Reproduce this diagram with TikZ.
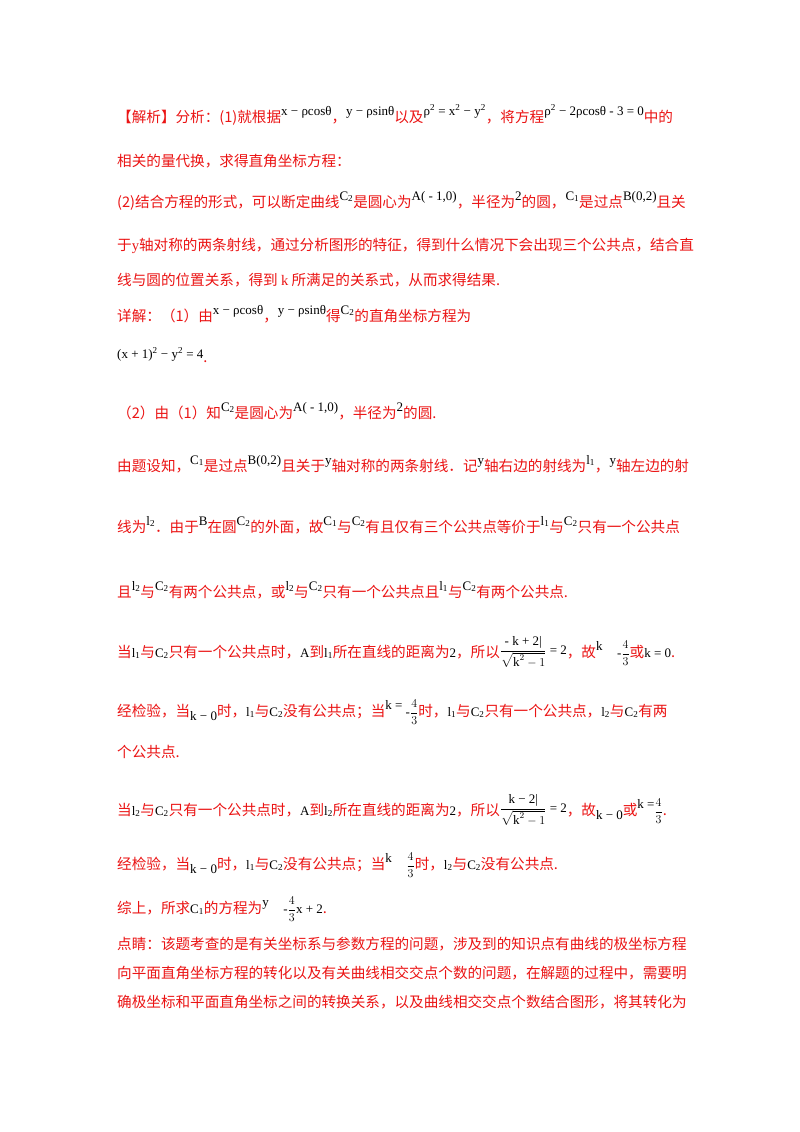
\documentclass[tikz,border=0pt]{standalone}
\usepackage{amsmath}
\usepackage{fontspec}
\setmainfont{Liberation Serif}
\newfontfamily\cjk{Noto Sans CJK SC}
\definecolor{jred}{RGB}{235,20,20}
\newcommand\msz{\fontsize{13pt}{15pt}\selectfont}
\newcommand\m[1]{{\rmfamily\color{black}#1}}
\newcommand\hi[1]{\raisebox{7pt}{\m{\msz #1}}}
\newcommand\lo[1]{\raisebox{-4pt}{\m{\msz #1}}}
\newcommand\ssb[1]{\textsubscript{#1}}
\newcommand\ssp[1]{\textsuperscript{#1}}
\newcommand\fr[2]{\m{\msz$\dfrac{\text{#1}}{\text{#2}}$}}
\newcommand\ft{\m{\msz$\dfrac{4}{3}$}}
\begin{document}
\begin{tikzpicture}[x=1pt,y=-1pt,
  ln/.style={anchor=base west,inner sep=0pt,font=\cjk\fontsize{14.6pt}{16pt}\selectfont,text=jred}]
\useasboundingbox (0,0) rectangle (800,1132);
\fill[white] (0,0) rectangle (800,1132);
\node[ln] (l1) at (117,122) {【解析】分析：(1)就根据\hi{x − ρcosθ}，\hi{y − ρsinθ}以及\hi{ρ\ssp{2} = x\ssp{2} − y\ssp{2}}，将方程\hi{ρ\ssp{2} − 2ρcosθ - 3 = 0}中的};
\node[ln] (l2) at (117,166) {相关的量代换，求得直角坐标方程：};
\node[ln] (l3) at (117,207) {(2)结合方程的形式，可以断定曲线\hi{C\ssb{2}}是圆心为\hi{A( - 1,0)}，半径为\hi{2}的圆，\hi{C\ssb{1}}是过点\hi{B(0,2)}且关};
\node[ln] (l4) at (117,250) {于{\rmfamily y}轴对称的两条射线，通过分析图形的特征，得到什么情况下会出现三个公共点，结合直};
\node[ln] (l5) at (117,285) {线与圆的位置关系，得到 {\rmfamily k} 所满足的关系式，从而求得结果.};
\node[ln] (l6) at (117,321) {详解：（1）由\hi{x − ρcosθ}，\hi{y − ρsinθ}得\hi{C\ssb{2}}的直角坐标方程为};
\node[ln] (l7) at (117,358) {\m{\msz (x + 1)\ssp{2} − y\ssp{2} = 4}\raisebox{-4pt}{.}};
\node[ln] (l8) at (117,418) {（2）由（1）知\hi{C\ssb{2}}是圆心为\hi{A( - 1,0)}，半径为\hi{2}的圆.};
\node[ln] (l9) at (117,471) {由题设知，\hi{C\ssb{1}}是过点\hi{B(0,2)}且关于\hi{y}轴对称的两条射线．记\hi{y}轴右边的射线为\hi{l\ssb{1}}，\hi{y}轴左边的射};
\node[ln] (l10) at (117,532) {线为\hi{l\ssb{2}}．由于\hi{B}在圆\hi{C\ssb{2}}的外面，故\hi{C\ssb{1}}与\hi{C\ssb{2}}有且仅有三个公共点等价于\hi{l\ssb{1}}与\hi{C\ssb{2}}只有一个公共点};
\node[ln] (l11) at (117,597) {且\hi{l\ssb{2}}与\hi{C\ssb{2}}有两个公共点，或\hi{l\ssb{2}}与\hi{C\ssb{2}}只有一个公共点且\hi{l\ssb{1}}与\hi{C\ssb{2}}有两个公共点.};
\node[ln] (l12) at (117,657) {当\m{\msz l\ssb{1}}与\m{\msz C\ssb{2}}只有一个公共点时，\m{\msz A}到\m{\msz l\ssb{1}}所在直线的距离为\m{\msz 2}，所以\raisebox{3pt}{\fr{- k + 2|}{$\sqrt{\text{k}^2-1}$}\m{\msz\ = 2}}，故\hi{k}\quad\m{\msz -}\ft 或\m{\msz k = 0}.};
\node[ln] (l13) at (117,716) {经检验，当\lo{k − 0}时，\m{\msz l\ssb{1}}与\m{\msz C\ssb{2}}没有公共点；当\hi{k =}\m{\msz\ -}\ft 时，\m{\msz l\ssb{1}}与\m{\msz C\ssb{2}}只有一个公共点，\m{\msz l\ssb{2}}与\m{\msz C\ssb{2}}有两};
\node[ln] (l14) at (117,757) {个公共点.};
\node[ln] (l15) at (117,815) {当\m{\msz l\ssb{2}}与\m{\msz C\ssb{2}}只有一个公共点时，\m{\msz A}到\m{\msz l\ssb{2}}所在直线的距离为\m{\msz 2}，所以\raisebox{3pt}{\fr{k − 2|}{$\sqrt{\text{k}^2-1}$}\m{\msz\ = 2}}，故\lo{k − 0}或\hi{k =}\ft.};
\node[ln] (l16) at (117,869) {经检验，当\lo{k − 0}时，\m{\msz l\ssb{1}}与\m{\msz C\ssb{2}}没有公共点；当\hi{k}\quad\ft 时，\m{\msz l\ssb{2}}与\m{\msz C\ssb{2}}没有公共点.};
\node[ln] (l17) at (117,913) {综上，所求\m{\msz C\ssb{1}}的方程为\hi{y}\quad\m{\msz -}\ft\m{\msz x + 2}.};
\node[ln] (l18) at (117,949) {点睛：该题考查的是有关坐标系与参数方程的问题，涉及到的知识点有曲线的极坐标方程};
\node[ln] (l19) at (117,978) {向平面直角坐标方程的转化以及有关曲线相交交点个数的问题，在解题的过程中，需要明};
\node[ln] (l20) at (117,1007) {确极坐标和平面直角坐标之间的转换关系，以及曲线相交交点个数结合图形，将其转化为};
\end{tikzpicture}
\end{document}
